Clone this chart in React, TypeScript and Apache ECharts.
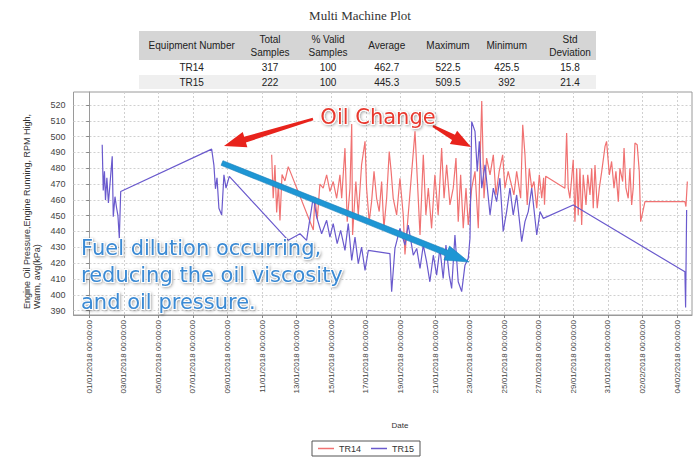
import React, { useEffect, useRef } from "react";
import * as echarts from "echarts";

const chartTitle = "Multi Machine Plot";
const yAxisName = "Engine Oil Pressure,Engine Running, RPM High,\nWarm, avg(kPa)";
const xAxisName = "Date";
const seriesNames = ["TR14", "TR15"];

const tableHeaders = ["Equipment Number", "Total\nSamples", "% Valid\nSamples", "Average", "Maximum", "Minimum", "Std\nDeviation"];
const equipment = ["TR14", "TR15"];
const totalSamples = ["317", "222"];
const validPct = ["100", "100"];
const averages = ["462.7", "445.3"];
const maximums = ["522.5", "509.5"];
const minimums = ["425.5", "392"];
const stdDevs = ["15.8", "21.4"];

const yTicks = [390, 400, 410, 420, 430, 440, 450, 460, 470, 480, 490, 500, 510, 520];
// x values: days since 01/01/2018 00:00:00
const xTickDays = [0, 2, 4, 6, 8, 10, 12, 14, 16, 18, 20, 22, 24, 26, 28, 30, 32, 34];
const xMin = -0.91;
const xMax = 34.86;
const yMin = 387.2;
const yMax = 528.2;

const tr14Days = [
  10.55, 10.64, 10.74, 10.84, 10.94, 11.03, 11.15, 11.32, 11.51, 12.96, 13.05, 13.19, 13.34, 13.53, 13.73, 13.92,
  14.11, 14.31, 14.5, 14.6, 14.79, 14.92, 15.08, 15.18, 15.23, 15.42, 15.56, 15.75, 15.95, 16.04, 16.19, 16.33,
  16.47, 16.62, 16.77, 16.91, 17.04, 17.2, 17.35, 17.46, 17.58, 17.78, 17.97, 18.16, 18.26, 18.84, 19.13, 19.32,
  19.47, 19.61, 19.8, 19.99, 20.18, 20.38, 20.52, 20.67, 20.86, 21.05, 21.21, 21.34, 21.48, 21.63, 21.79, 21.92,
  22.12, 22.31, 22.5, 22.7, 22.83, 22.98, 23.18, 23.37, 23.52, 23.71, 23.91, 24.04, 24.23, 24.37, 24.56, 24.72,
  24.95, 25.07, 25.2, 25.33, 25.45, 25.59, 25.72, 25.88, 26.03, 26.17, 26.28, 26.33, 26.4, 27.51, 27.61, 27.7,
  27.8, 27.9, 27.99, 28.09, 28.19, 28.28, 28.38, 28.48, 28.57, 28.73, 28.83, 28.96, 29.06, 29.15, 29.25, 29.38,
  29.5, 29.64, 29.83, 29.92, 30.08, 30.21, 30.35, 30.46, 30.6, 30.69, 30.85, 30.93, 31.04, 31.17, 31.27, 31.37,
  31.46, 31.56, 31.69, 31.81, 31.89, 32.14, 34.45, 34.51, 34.59,
];
const tr14Values = [
  488.5, 461, 482, 452, 470, 447, 476, 472, 481, 441, 462, 448, 470, 467.4, 475.8, 465.3,
  471.6, 461, 475.8, 461, 492.7, 446.2, 467.4, 508, 437.8, 471.6, 450.4, 482.1, 497, 467.4, 446.2, 458.9,
  478, 461, 452.6, 471.6, 442, 461, 490.6, 478, 461, 450.4, 473.7, 450.4, 425.5, 503.3, 437.8, 488.5,
  450.4, 467.4, 442, 475.8, 450.4, 492.7, 461, 482.1, 456.8, 467.4, 486.4, 446.2, 475.8, 442, 467.4, 444.1,
  467.4, 478, 442, 522.5, 461, 486.4, 475.8, 488.5, 463.1, 478, 488.5, 467.4, 478, 471.6, 463.1, 478,
  461, 507.5, 488.5, 456.8, 480, 467.4, 471.6, 454.7, 475.8, 461, 474, 457, 475, 467.4, 502.2, 467.4,
  461, 473.7, 485.3, 446.2, 480, 450.4, 480, 444.1, 475.8, 456.8, 475.8, 463.1, 480, 454.7, 482.1, 454.7,
  467.4, 478, 493.8, 497, 475.8, 484.3, 467.4, 478, 458.9, 480, 471.6, 492.7, 467.4, 461, 480, 456.8,
  467.4, 495.9, 494.8, 478, 446.2, 458.9, 458.9, 455.8, 471.6,
];

const tr15Days = [
  0.75, 0.81, 0.88, 0.94, 1.02, 1.11, 1.2, 1.33, 1.39, 1.49, 1.58, 1.66, 1.74, 1.82, 7.08, 7.21,
  7.3, 7.39, 7.5, 7.66, 7.79, 7.91, 8.1, 11.51, 12.19, 12.57, 12.96, 13.15, 13.44, 13.73, 13.92, 14.11,
  14.34, 14.54, 14.79, 14.98, 15.18, 15.37, 15.56, 15.75, 15.95, 16.14, 17.39, 17.49, 17.68, 17.97, 18.26, 18.45,
  18.74, 18.94, 19.13, 19.32, 19.51, 19.7, 19.9, 20.09, 20.28, 20.47, 20.63, 20.82, 20.96, 21.15, 21.34, 21.54,
  21.73, 21.92, 22.02, 22.12, 22.31, 22.44, 22.56, 22.7, 22.89, 23.18, 23.37, 23.56, 23.75, 23.94, 24.14, 24.33,
  24.52, 24.72, 25.01, 25.2, 25.39, 25.59, 25.88, 26.07, 26.26, 27.99, 34.45, 34.49, 34.55,
];
const tr15Values = [
  494.8, 466, 478, 460, 474, 458, 470, 487.5, 449.4, 462, 455, 450, 435.7, 465.3, 492.1, 482,
  467, 474, 454.7, 450.4, 475.8, 467.4, 474.8, 434.4, 438.6, 434.4, 461.9, 449.2, 438.6, 447.1, 436.5, 445,
  432.3, 440.7, 428.1, 445, 421.7, 436.5, 419.6, 430.1, 415.4, 428.1, 426, 401.9, 429.3, 442, 431.4, 444.1,
  425, 429.3, 416.6, 431.4, 420.9, 408.2, 425, 412.4, 429.3, 410.3, 431.4, 412.4, 404, 437.8, 408.2, 402,
  418.7, 423, 435.7, 509.5, 503.3, 478, 497, 467.4, 482.1, 450.4, 467.4, 458.9, 473.7, 440, 452.6, 467.4,
  450.4, 463.1, 433.6, 446.2, 452.6, 467.4, 437.8, 452.6, 448.3, 456.8, 414.5, 392, 453.6,
];

const FONT = '"Liberation Sans", Arial, sans-serif';
const ANNO_FONT = '"DejaVu Sans", Verdana, sans-serif';

function pad(n: number) {
  return n < 10 ? "0" + n : "" + n;
}
function fmtDate(v: number) {
  const d = new Date(Date.UTC(2018, 0, 1) + Math.round(v * 24) * 3600000);
  return `${pad(d.getUTCDate())}/${pad(d.getUTCMonth() + 1)}/${d.getUTCFullYear()} ${pad(d.getUTCHours())}:00:00`;
}

function arrow(x1: number, y1: number, x2: number, y2: number, w1: number, w2: number, hl: number, hw: number) {
  const dx = x2 - x1, dy = y2 - y1;
  const len = Math.sqrt(dx * dx + dy * dy);
  const ux = dx / len, uy = dy / len;
  const nx = -uy, ny = ux;
  const bx = x2 - ux * hl, by = y2 - uy * hl;
  return [
    [x1 + (nx * w1) / 2, y1 + (ny * w1) / 2],
    [bx + (nx * w2) / 2, by + (ny * w2) / 2],
    [bx + (nx * hw) / 2, by + (ny * hw) / 2],
    [x2, y2],
    [bx - (nx * hw) / 2, by - (ny * hw) / 2],
    [bx - (nx * w2) / 2, by - (ny * w2) / 2],
    [x1 - (nx * w1) / 2, y1 - (ny * w1) / 2],
  ];
}

export default function App() {
  const ref = useRef<HTMLDivElement>(null);
  useEffect(() => {
    if (!ref.current) return;
    const chart = echarts.init(ref.current, null, { renderer: "svg" });

    const colX = [191.7, 270, 328, 386.7, 448, 506.7, 570];
    const rowY = [67.5, 82.5];
    const rows = equipment.map((e, i) => [e, totalSamples[i], validPct[i], averages[i], maximums[i], minimums[i], stdDevs[i]]);

    const graphics: any[] = [
      {
        type: "text", x: 360, y: 15,
        style: { text: chartTitle, font: '13px "Liberation Serif", "Times New Roman", serif', fill: "#333", textAlign: "center", textVerticalAlign: "middle" },
      },
      { type: "rect", shape: { x: 139, y: 31, width: 457, height: 29 }, style: { fill: "#d5d5d5" } },
      { type: "rect", shape: { x: 139, y: 75, width: 457, height: 14 }, style: { fill: "#efefef" } },
      ...tableHeaders.map((h, i) => ({
        type: "text", x: colX[i], y: 45.5,
        style: { text: h, font: `10px ${FONT}`, fill: "#222", textAlign: "center", textVerticalAlign: "middle", lineHeight: 13 },
      })),
      ...rows.flatMap((r, ri) =>
        r.map((c, ci) => ({
          type: "text", x: colX[ci], y: rowY[ri],
          style: { text: c, font: `10px ${FONT}`, fill: "#222", textAlign: "center", textVerticalAlign: "middle" },
        }))
      ),
      {
        type: "text", x: 22, y: 309, rotation: Math.PI / 2,
        style: { text: yAxisName, font: `9px ${FONT}`, fill: "#333", textAlign: "left", textVerticalAlign: "top", lineHeight: 10 },
      },
      {
        type: "text", x: 400, y: 425,
        style: { text: xAxisName, font: `8px ${FONT}`, fill: "#333", textAlign: "center", textVerticalAlign: "middle" },
      },
      // annotations
      {
        type: "polygon", z: 100, shape: { points: arrow(222, 163, 469, 262, 5, 6, 24, 15) },
        style: { fill: "#1e96d4", stroke: "#1780bb", lineWidth: 0.6 },
      },
      {
        type: "polygon", z: 100, shape: { points: arrow(313, 119, 224, 146, 2.5, 6, 22, 16) },
        style: { fill: "#e8231c" },
      },
      {
        type: "polygon", z: 100, shape: { points: arrow(433, 126, 471, 147, 2.5, 6, 20, 15) },
        style: { fill: "#e8231c" },
      },
      {
        type: "text", z: 100, x: 378, y: 117,
        style: {
          text: "Oil Change", font: `21px ${ANNO_FONT}`, fill: "#e8392e", textAlign: "center", textVerticalAlign: "middle",
          stroke: "#fff", lineWidth: 2, textShadowColor: "rgba(0,0,0,0.35)", textShadowBlur: 3, textShadowOffsetX: 1, textShadowOffsetY: 1,
        },
      },
      {
        type: "text", z: 100, x: 81, y: 234,
        style: {
          text: "Fuel dilution occurring,\nreducing the oil viscosity\nand oil pressure.", font: `21px ${ANNO_FONT}`, fill: "#3a8ad4",
          textAlign: "left", textVerticalAlign: "top", lineHeight: 27,
          stroke: "#fff", lineWidth: 2, textShadowColor: "rgba(0,0,0,0.35)", textShadowBlur: 3, textShadowOffsetX: 1, textShadowOffsetY: 1,
        },
      },
    ];

    chart.setOption({
      animation: false,
      backgroundColor: "#fff",
      textStyle: { fontFamily: FONT },
      grid: { left: 73.5, right: 3, top: 92, bottom: 146, show: true, borderColor: "#9a9a9a", borderWidth: 1 },
      legend: {
        data: seriesNames, left: 312, top: 441, icon: "rect", itemWidth: 16, itemHeight: 1.5, itemGap: 10,
        borderColor: "#555", borderWidth: 1, padding: [3, 6], textStyle: { fontSize: 9, color: "#333", fontFamily: FONT },
      },
      xAxis: {
        type: "value", min: xMin, max: xMax,
        axisLine: { show: true, lineStyle: { color: "#9a9a9a" } },
        axisTick: { show: true, customValues: xTickDays, length: 3, lineStyle: { color: "#888" } },
        axisLabel: { customValues: xTickDays, rotate: 90, fontSize: 8, color: "#444", margin: 5, formatter: (v: number) => fmtDate(v) },
        splitLine: { show: true, lineStyle: { color: "#d0d0d0", type: [2, 2] } },
      },
      yAxis: {
        type: "value", min: yMin, max: yMax,
        axisLine: { show: true, lineStyle: { color: "#9a9a9a" } },
        axisTick: { show: true, customValues: yTicks, length: 3, lineStyle: { color: "#888" } },
        axisLabel: { customValues: yTicks, fontSize: 9, color: "#444", margin: 8 },
        splitLine: { show: true, lineStyle: { color: "#d0d0d0", type: [2, 2] } },
      },
      series: [
        {
          name: seriesNames[0], type: "line", symbol: "none", color: "#f07272",
          lineStyle: { width: 1.2, color: "#f07272" },
          data: tr14Days.map((d, i) => [d, tr14Values[i]]),
        },
        {
          name: seriesNames[1], type: "line", symbol: "none", color: "#6a5acd",
          lineStyle: { width: 1.2, color: "#6a5acd" },
          data: tr15Days.map((d, i) => [d, tr15Values[i]]),
        },
      ],
      graphic: graphics,
    });
    return () => chart.dispose();
  }, []);
  return <div ref={ref} style={{ position: "fixed", left: 0, top: 0, width: 695, height: 461, background: "#fff" }} />;
}
